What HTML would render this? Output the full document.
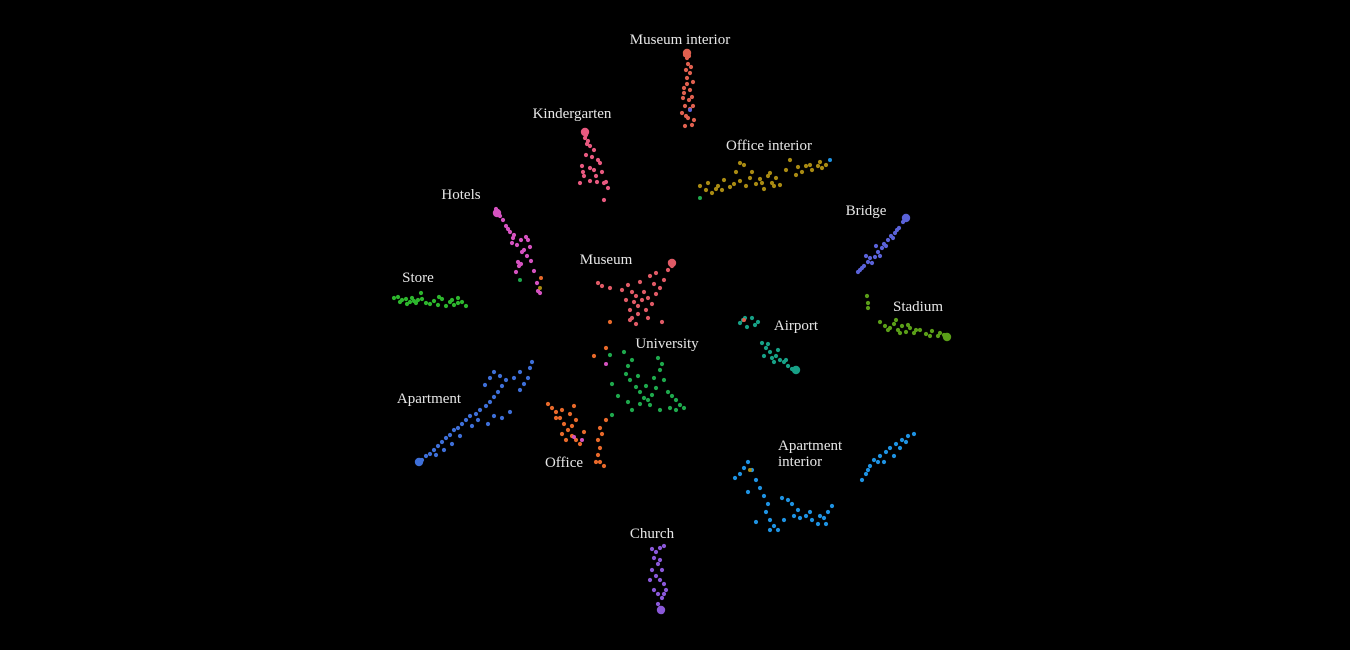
<!DOCTYPE html>
<html><head><meta charset="utf-8"><style>
html,body{margin:0;padding:0;background:#000;width:1350px;height:650px;overflow:hidden}
svg{display:block}
text{font-family:"Liberation Serif",serif;font-size:15px;fill:#e6e6e6}
</style></head><body>
<svg id="chart" width="1350" height="650" viewBox="0 0 1350 650">
<rect width="1350" height="650" fill="#000"/>
<g id="points"></g>
<g id="labels"></g>
</svg>
<script>
// Cluster names and colors
const categories = ["Museum interior","Kindergarten","Office interior","Hotels","Store","Museum","Bridge","Stadium","Airport","University","Apartment","Office","Apartment interior","Church"];
const colors = ["#e0604f","#e8597f","#a88a12","#d552c0","#2db52d","#e05a66","#5a62d8","#5a9e18","#17a086","#1ea84c","#3e6fd8","#e8692a","#1e92e2","#8a58d8"];
// Label positions (data coords)
const labelX = [680,572,769,461,418,606,866,918,796,667,429,564,815,652];
const labelY = [44,118,150,199,282,264,215,311,330,348,403,467,450,538];
// Dense blob end of each cluster (null = none)
const blobX = [687,585,null,497,null,672,906,947,796,null,419,null,null,661];
const blobY = [53,132,null,213,null,263,218,337,370,null,462,null,null,610];
// Point coordinates per cluster (data units), flat [x,y,...]
const museumInterior = [686,52,688,54,685,55,689,56,687,58,688,64,686,70,690,73,687,78,693,82,684,88,690,90,683,98,689,100,692,97,685,106,690,109,682,113,688,118,692,125,685,126,687,84,694,120,691,67,684,93,686,116,693,106];
const kindergarten = [584,132,586,135,585,138,588,141,590,146,594,150,586,155,598,160,582,166,590,168,600,163,584,176,590,181,597,182,604,183,608,188,604,200,580,183,594,170,602,172,587,144,592,157,583,172,596,176,606,182];
const officeInterior = [700,186,706,190,712,193,718,186,722,190,730,187,736,172,740,181,740,163,746,186,750,178,756,184,760,179,764,189,768,176,772,183,776,178,780,185,786,170,790,160,796,175,802,172,806,166,812,170,818,166,822,168,826,165,708,183,724,180,752,172,770,173,716,189,734,184,762,183,774,186,810,165,820,162,744,165,798,167];
const hotels = [496,209,498,213,500,216,503,220,506,226,510,232,514,235,512,243,517,245,521,240,526,237,524,250,527,256,531,261,534,271,519,266,516,272,521,264,538,291,540,293,537,283,530,247,508,229,513,238,528,240,522,252,518,262];
const store = [394,298,398,297,402,300,406,299,410,302,414,301,418,300,422,299,426,303,430,304,434,301,438,305,442,299,446,306,450,302,454,305,458,303,462,302,466,306,421,293,439,297,407,304,400,302,412,298,416,303,452,300,458,298];
const museum = [598,283,602,286,610,288,622,290,628,285,632,292,636,296,634,302,638,306,630,310,642,300,648,298,652,304,646,310,656,294,660,288,664,280,670,262,672,266,668,270,656,273,650,276,640,282,632,318,636,324,630,320,662,322,644,292,638,314,654,284,626,300,648,318];
const bridge = [906,218,903,222,899,228,895,233,891,236,888,240,884,244,882,248,878,252,875,257,870,258,868,262,864,266,860,270,858,272,876,246,880,256,897,230,893,238,886,246,872,263,866,256,862,268];
const stadium = [867,296,868,303,868,308,880,322,885,326,890,328,894,324,898,330,902,326,906,332,910,328,914,333,920,330,926,334,932,331,938,336,944,335,948,336,946,337,896,320,888,330,900,333,908,325,916,330,930,336,940,333];
const airport = [740,323,743,320,747,327,752,318,755,325,758,322,762,343,766,348,770,352,772,358,776,356,780,360,784,362,788,366,792,369,796,370,764,356,778,350,745,318,768,344,774,362,786,360];
const university = [610,355,628,366,632,360,612,384,618,396,626,374,630,380,636,387,640,392,644,398,648,400,652,395,656,388,660,370,664,380,668,392,672,396,676,400,680,405,684,408,632,410,628,402,640,404,650,405,660,410,612,415,658,358,662,364,654,378,646,386,670,408,676,410,638,376,624,352];
const apartment = [418,463,422,460,426,456,430,454,434,450,438,446,442,442,446,438,450,435,454,430,458,428,462,424,466,420,470,416,476,414,480,410,486,406,490,402,494,397,498,392,502,386,506,380,485,385,490,378,494,372,520,390,524,384,528,378,530,368,532,362,520,372,514,378,500,376,436,455,444,450,452,444,460,436,472,426,478,420,494,416,502,418,510,412,488,424];
const office = [548,404,552,408,556,412,560,418,564,424,568,430,572,436,576,440,580,444,576,420,570,414,566,440,562,434,600,428,602,434,598,440,600,448,598,455,600,462,604,466,596,462,606,420,556,418,562,410,572,426,584,432,574,406,610,322,606,348,594,356];
const aptInterior = [735,478,740,474,744,468,748,462,752,470,756,480,760,488,764,496,768,504,766,512,770,520,774,526,778,530,782,498,788,500,792,504,798,510,800,518,806,516,812,520,818,524,824,518,828,512,832,506,862,480,866,474,870,466,874,460,880,456,886,452,890,448,896,444,902,440,908,436,914,434,884,462,894,456,748,492,756,522,770,530,810,512,820,516,826,524,784,520,794,516,868,470,878,462,900,448,906,442];
const church = [652,549,656,552,660,548,664,546,654,558,658,564,662,570,656,576,660,580,664,584,654,590,658,594,662,598,658,604,660,608,662,612,664,594,650,580,666,590,652,570,660,560];
const clusters = [museumInterior,kindergarten,officeInterior,hotels,store,museum,bridge,stadium,airport,university,apartment,office,aptInterior,church];

const xDomain=[0,1350], yDomain=[0,650], xRange=[0,1350], yRange=[0,650];
function xScale(v){return xRange[0]+(v-xDomain[0])/(xDomain[1]-xDomain[0])*(xRange[1]-xRange[0]);}
function yScale(v){return yRange[0]+(v-yDomain[0])/(yDomain[1]-yDomain[0])*(yRange[1]-yRange[0]);}

const NS="http://www.w3.org/2000/svg";
const gp=document.getElementById('points');
const gl=document.getElementById('labels');
clusters.forEach((arr,ci)=>{
  const g=document.createElementNS(NS,'g');
  
  
  for(let i=0;i<arr.length;i+=2){
    const c=document.createElementNS(NS,'circle');
    c.setAttribute('cx',xScale(arr[i]));
    c.setAttribute('cy',yScale(arr[i+1]));
    c.setAttribute('r',2.1);
    c.setAttribute('fill',colors[ci]);
    
    
    g.appendChild(c);
  }
  if(blobX[ci]!==null){
    const b=document.createElementNS(NS,'circle');
    b.setAttribute('cx',xScale(blobX[ci]));
    b.setAttribute('cy',yScale(blobY[ci]));
    b.setAttribute('r',4.2);
    b.setAttribute('fill',colors[ci]);
    
    
    g.appendChild(b);
  }
  gp.appendChild(g);
  const t=document.createElementNS(NS,'text');
  t.setAttribute('x',xScale(labelX[ci]));
  t.setAttribute('y',yScale(labelY[ci]));
  t.setAttribute('text-anchor','middle');
  
  
  if(categories[ci]==="Apartment interior"){
    t.setAttribute('text-anchor','start');
    t.setAttribute('x',xScale(778));
    const a=document.createElementNS(NS,'tspan');a.textContent='Apartment';a.setAttribute('x',xScale(778));
    const b=document.createElementNS(NS,'tspan');b.textContent='interior';b.setAttribute('x',xScale(778));b.setAttribute('dy','16');
    t.appendChild(a);t.appendChild(b);
  } else t.textContent=categories[ci];
  gl.appendChild(t);
});
// stray off-color points present in the reference
const strayX=[690,700,830,520,541,540,744,606,574,750,582];
const strayY=[110,198,160,280,278,288,320,364,437,470,440];
const strayC=[6,9,12,9,11,2,0,3,3,2,3];
strayX.forEach((x,i)=>{
  const c=document.createElementNS(NS,'circle');
  c.setAttribute('cx',xScale(x));
  c.setAttribute('cy',yScale(strayY[i]));
  c.setAttribute('r',2);
  c.setAttribute('fill',colors[strayC[i]]);
  
  
  gp.appendChild(c);
});
</script>
</body></html>
